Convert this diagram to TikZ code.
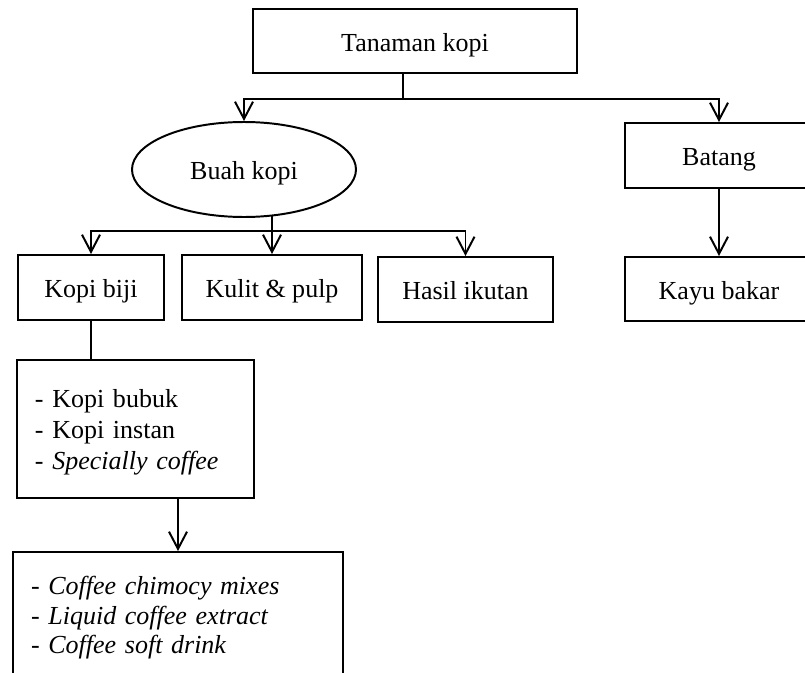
\documentclass[tikz,border=0pt]{standalone}
\usepackage{fontspec}
\setmainfont{Liberation Serif}
\usetikzlibrary{shapes.geometric, arrows.meta, positioning, calc}

\begin{document}
\begin{tikzpicture}[
  font=\fontsize{18.5}{21}\selectfont,
  box/.style={draw, line width=1.4pt, minimum height=1.625cm, inner sep=0pt,
              text height=0.5cm, text depth=0pt},
  oval/.style={draw, ellipse, line width=1.4pt, minimum width=5.6cm,
               minimum height=2.375cm, inner sep=0pt, text height=0.5cm, text depth=0pt},
  listbox/.style={draw, line width=1.4pt, align=left, inner xsep=0.45cm, inner ysep=0pt},
  link/.style={line width=1.4pt},
  arr/.style={link, -{Straight Barb[length=4.3mm, width=4.5mm]}},
]
\useasboundingbox (0,0) rectangle (20.125,-16.8);

% plant
\node[box, minimum width=8.1cm, minimum height=1.6cm] (tanaman) at (10.375,-1.025) {Tanaman kopi};

% second level
\node[oval] (buah) at (6.1,-4.2375) {Buah kopi};
\node[box, minimum width=4.7cm] (batang) at (17.975,-3.8875) {Batang};
\node[box, minimum width=4.7cm, minimum height=1.6cm] (kayu) at (17.975,-7.225) {Kayu bakar};

% parts of the fruit
\node[box, minimum width=3.65cm] (kopibiji) at (2.275,-7.1875) {Kopi biji};
\node[box, minimum width=4.5cm] (kulit) at (6.8,-7.1875) {Kulit \& pulp};
\node[box, minimum width=4.375cm] (hasil) at (11.6375,-7.2375) {Hasil ikutan};

% products
\node[listbox, text width=5.025cm, minimum height=3.45cm,
      font=\fontsize{18.5}{22}\selectfont] (produk) at (3.3875,-10.725)
     {\rule{0pt}{0.6cm}- Kopi bubuk\\- Kopi instan\\- \textit{Specially coffee}};
\node[listbox, text width=7.35cm, minimum height=3.15cm] (olahan) at (4.45,-15.375)
     {\rule{0pt}{0.6cm}- \textit{Coffee chimocy mixes}\\- \textit{Liquid coffee extract}\\- \textit{Coffee soft drink}};

% connectors
\coordinate (fork1) at ($(tanaman.south)+(-0.3,-0.625)$);
\draw[link] ($(tanaman.south)+(-0.3,0)$) -- (fork1);
\draw[arr] (fork1) -| (buah.north);
\draw[arr] (fork1) -| (batang.north);
\draw[arr] (batang) -- (kayu);

\coordinate (fork2) at ($(kulit.north)+(0,0.575)$);
\draw[arr] ($(buah.south -| kulit.north)+(0,0.05)$) -- (kulit.north);
\draw[arr] (fork2) -| (kopibiji.north);
\draw[arr] (fork2) -| (hasil.north);

\draw[link] (kopibiji.south) -- (kopibiji.south |- produk.north);
\draw[arr] (produk.south -| olahan.north) -- (olahan.north);
\end{tikzpicture}
\end{document}
